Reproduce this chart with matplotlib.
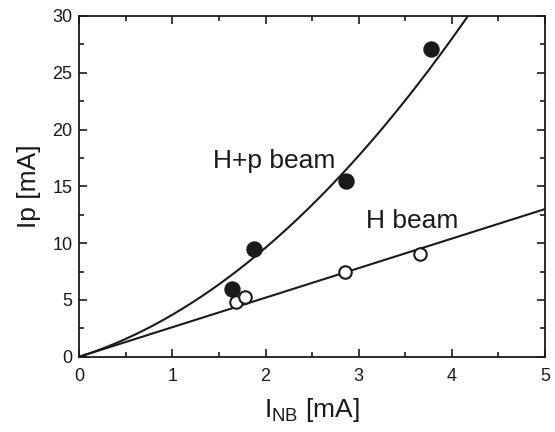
import numpy as np
import matplotlib
matplotlib.use('Agg')
import matplotlib.pyplot as plt
from matplotlib.ticker import MultipleLocator

plt.rcParams['font.family'] = ['Liberation Sans', 'DejaVu Sans']

# H+p beam (filled) and H beam (open) measurements
hp_x = [1.64, 1.88, 2.86, 3.78]
hp_y = [6.0, 9.45, 15.5, 27.1]
h_x = [1.68, 1.78, 2.85, 3.66]
h_y = [4.85, 5.3, 7.5, 9.0]

# fitted curves: Ip = a*I + b*I^2
h_fit = [2.6, 0.0]
hp_fit = [2.6, 1.1]

fig = plt.figure(figsize=(5.55, 4.32), dpi=100)
ax = fig.add_axes([0.1429, 0.1743, 0.982 - 0.1429, 0.963 - 0.1743])

xs = np.linspace(0, 5, 300)
ax.plot(xs, h_fit[0] * xs + h_fit[1] * xs**2, color='#1a1a1a', lw=1.5)
ax.plot(xs, hp_fit[0] * xs + hp_fit[1] * xs**2, color='#1a1a1a', lw=1.5)

ax.plot(hp_x, hp_y, 'o', ms=10.8, color='#1a1a1a', mec='#1a1a1a')
ax.plot(h_x, h_y, 'o', ms=9, mfc='white', mec='#1a1a1a', mew=1.5)

ax.text(1.435, 16.6, 'H+p beam', fontsize=19, color='#1a1a1a')
ax.text(3.075, 11.3, 'H beam', fontsize=19, color='#1a1a1a')

ax.set_xlim(0, 5)
ax.set_ylim(0, 30)
ax.xaxis.set_major_locator(MultipleLocator(1))
ax.xaxis.set_minor_locator(MultipleLocator(0.5))
ax.yaxis.set_major_locator(MultipleLocator(5))
ax.yaxis.set_minor_locator(MultipleLocator(2.5))
ax.tick_params(which='both', direction='in', top=True, right=True, width=1.2, color='#1a1a1a')
ax.tick_params(which='major', length=6, labelsize=13, labelcolor='#1a1a1a')
ax.tick_params(which='minor', length=3.5)
ax.tick_params(axis='x', which='major', pad=8)
ax.tick_params(axis='y', which='major', pad=5)
for s in ax.spines.values():
    s.set_linewidth(1.3)
    s.set_color('#1a1a1a')

ax.set_xlabel(r'I$_{\mathregular{NB}}$ [mA]', fontsize=19, color='#1a1a1a', labelpad=8)
ax.set_ylabel('Ip [mA]', fontsize=19, color='#1a1a1a', labelpad=8)

fig.savefig('out.png', dpi=100)
